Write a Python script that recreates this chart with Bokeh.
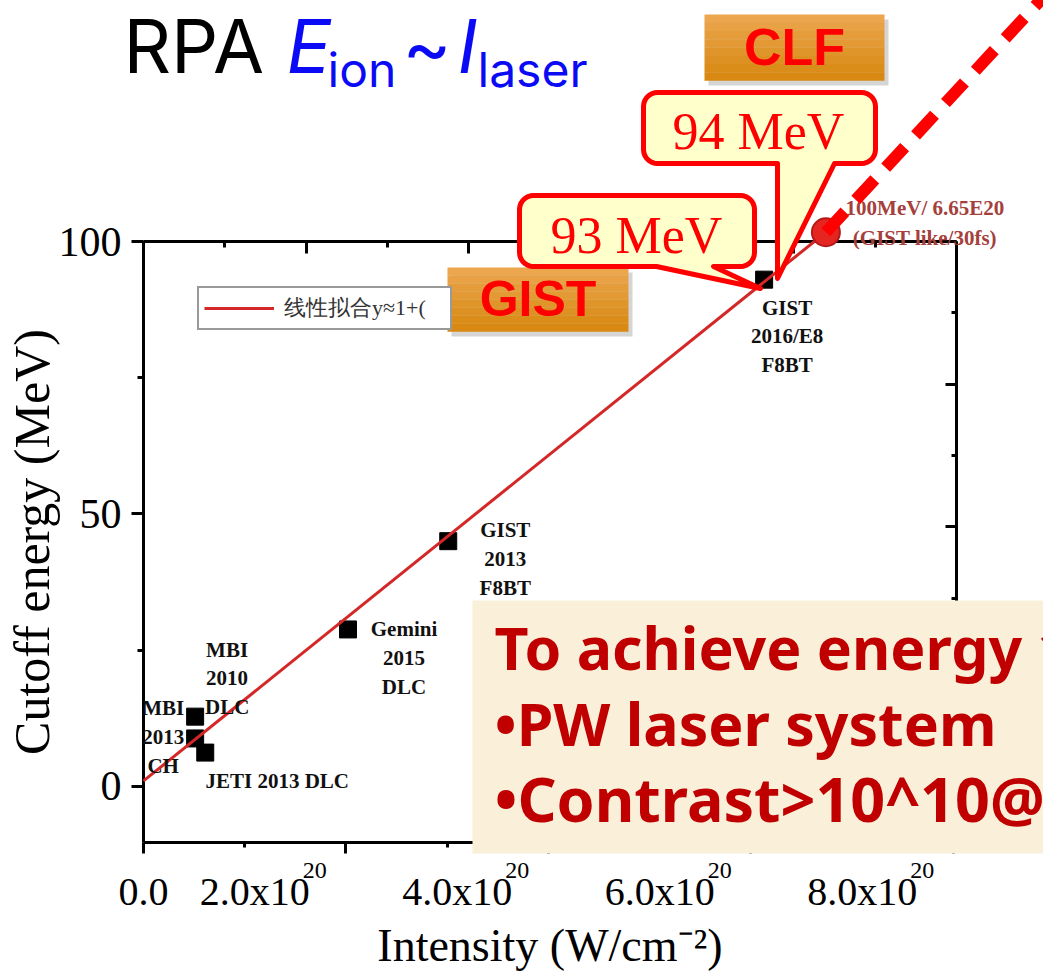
import numpy as np
from bokeh.plotting import figure
from bokeh.models import Range1d, LinearAxis, FixedTicker, Legend, LegendItem
from bokeh.core.properties import value
from bokeh.embed import file_html
from bokeh.resources import INLINE

# ---------------- data ----------------
point_names = ["MBI 2010 DLC", "MBI 2013 CH", "JETI 2013 DLC",
               "Gemini 2015 DLC", "GIST 2013 F8BT", "GIST 2016/E8 F8BT"]
point_labels = ["MBI\n2010\nDLC", "MBI\n2013\nCH", "JETI 2013 DLC",
                "Gemini\n2015\nDLC", "GIST\n2013\nF8BT", "GIST\n2016/E8\nF8BT"]
intensity_e20 = [0.51, 0.51, 0.61, 2.02, 3.01, 6.13]      # x 1e20 W/cm^2
cutoff_mev = [12.8, 8.8, 6.2, 28.8, 45.0, 93.0]

target_intensity = [6.74]
target_energy = [101.7]
target_label = "100MeV/ 6.65E20\n(GIST like/30fs)"

fit_x = [0.0, 6.74]
fit_y = [1.0, 101.7]
fit_label = "线性拟合y≈1+("

proj_x = [6.74, 9.06]
proj_y = [101.7, 148.3]

callout_texts = ["93 MeV", "94 MeV"]
facility_texts = ["GIST", "CLF"]
note_lines = ["To achieve energy 100 MeV", "•PW laser system", "•Contrast>10^10@ps"]

x_ticks = [0, 2, 4, 6, 8]
x_minor = [1, 3, 5, 7]
x_tick_labels = ["0.0", "2.0x10", "4.0x10", "6.0x10", "8.0x10"]
x_tick_exponents = ["", "20", "20", "20", "20"]
y_ticks = [0, 50, 100]
y_minor = [25, 75]
top_ticks = [0, 2, 4, 6, 8, 10]
top_minor = [1, 3, 5, 7, 9]
right_ticks = [0, -2, -4, -6, -8]
right_minor = [-1, -3, -5, -7]

# ---------------- layout helpers (page pixel -> data) ----------------
W, H = 1043, 975
X0, X1 = 0.0, 8.03
Y0, Y1 = -10.3, 100.0
FL, FR, FT, FB = 143, 956, 241, 842          # frame edges in page pixels
PXX = (FR - FL) / (X1 - X0)
PXY = (FB - FT) / (Y1 - Y0)


def dx(px):
    return X0 + (px - FL) / PXX


def dy(py):
    return Y1 - (py - FT) / PXY


# font ascents (em) used to place "top"-anchored text by its baseline
ASC = {"Liberation Serif": 0.891, "Liberation Sans": 0.905,
       "Noto Sans": 1.069, "Inter": 0.969}


def top_from_baseline(baseline, font, size):
    return baseline - ASC[font] * size


p = figure(width=W, height=H, x_range=Range1d(X0, X1), y_range=Range1d(Y0, Y1),
           x_axis_type=None, y_axis_type=None, output_backend="svg",
           toolbar_location=None, min_border_left=FL, min_border_right=W - FR,
           min_border_top=FT, min_border_bottom=H - FB, outline_line_color=None,
           background_fill_color="white", border_fill_color="white")
p.extra_x_ranges = {"top": Range1d(0, 10)}
p.extra_y_ranges = {"right": Range1d(-(FB - FT) / 71.3, 0)}

axis_common = dict(axis_line_width=3, major_tick_line_width=3, minor_tick_line_width=3,
                   axis_line_color="black", major_tick_line_color="black",
                   minor_tick_line_color="black")
no_labels = dict(major_label_text_color=None, major_label_text_font_size="1px",
                 major_label_standoff=0)

# bottom axis: ticks only
xb = LinearAxis(ticker=FixedTicker(ticks=x_ticks, minor_ticks=x_minor),
                major_tick_out=11, major_tick_in=0, minor_tick_out=5, minor_tick_in=0,
                **no_labels, **axis_common)
p.add_layout(xb, "below")

# bottom labels (shifted left as in the picture)
label_pos = [0.0 if t == 0 else t - 0.9 for t in x_ticks]
xl = LinearAxis(ticker=FixedTicker(ticks=label_pos, minor_ticks=[]),
                major_label_overrides=dict(zip(label_pos, x_tick_labels)),
                axis_line_color=None, major_tick_line_color=None, minor_tick_line_color=None,
                major_tick_out=0, major_tick_in=0, minor_tick_out=0, minor_tick_in=0,
                major_label_standoff=15, major_label_text_font="Liberation Serif",
                major_label_text_font_size="40px", major_label_text_color="black",
                axis_label="Intensity (W/cm⁻²)", axis_label_text_font="Liberation Serif",
                axis_label_text_font_size="46px", axis_label_text_font_style="normal",
                axis_label_text_color="black", axis_label_standoff=3)
p.add_layout(xl, "below")

# left axis
yl = LinearAxis(ticker=FixedTicker(ticks=y_ticks, minor_ticks=y_minor),
                major_tick_out=12, major_tick_in=0, minor_tick_out=6, minor_tick_in=0,
                major_label_standoff=10, major_label_text_font="Liberation Serif",
                major_label_text_font_size="42px", major_label_text_color="black",
                axis_label="Cutoff energy (MeV)", axis_label_text_font="Liberation Serif",
                axis_label_text_font_size="50px", axis_label_text_font_style="normal",
                axis_label_text_color="black", axis_label_standoff=-4, **axis_common)
p.add_layout(yl, "left")

# top axis (inward ticks, no labels)
xt = LinearAxis(x_range_name="top", ticker=FixedTicker(ticks=top_ticks, minor_ticks=top_minor),
                major_tick_out=0, major_tick_in=12, minor_tick_out=0, minor_tick_in=6,
                **no_labels, **axis_common)
p.add_layout(xt, "above")

# right axis (inward ticks, no labels)
yr = LinearAxis(y_range_name="right",
                ticker=FixedTicker(ticks=right_ticks, minor_ticks=right_minor),
                major_tick_out=0, major_tick_in=11, minor_tick_out=0, minor_tick_in=5,
                **no_labels, **axis_common)
p.add_layout(yr, "right")

# ---------------- data marks ----------------
p.scatter(intensity_e20, cutoff_mev, marker="square", size=17, color="black")
fit_r = p.line(fit_x, fit_y, line_color="#D42828", line_width=3, level="overlay")

p.text(x=intensity_e20, y=cutoff_mev, text=point_labels,
       x_offset=[32, -32, 72, 56, 57, 23], y_offset=[-79, -42, 16, -12, -23, 16],
       text_align="center", text_baseline="top", text_line_height=1.2,
       text_font=value("Liberation Serif"), text_font_style="bold", text_font_size="21px",
       text_color="#111111", level="overlay")

p.text(x=target_intensity, y=target_energy, text=[target_label], x_offset=99, y_offset=-36,
       text_align="center", text_baseline="top", text_line_height=1.25,
       text_font=value("Liberation Serif"), text_font_style="bold", text_font_size="21px",
       text_color="#A5403C", level="overlay")

p.scatter(target_intensity, target_energy, marker="circle", size=28,
          fill_color="#E52520", line_color="#B51A1A", line_width=2, level="overlay")
p.line(proj_x, proj_y, line_color="#FF0000", line_width=12, line_dash="28 16",
       level="overlay")

# superscript exponents of the x tick labels
sup_x = [pos for pos, e in zip(label_pos, x_tick_exponents) if e]
sup_t = [e for e in x_tick_exponents if e]
p.text(x=sup_x, y=[dy(862)] * len(sup_x), text=sup_t, x_offset=48,
       text_align="left", text_baseline="top", text_font=value("Liberation Serif"),
       text_font_size="24px", text_color="black", level="overlay")

# legend (its right part is hidden under the GIST box)
legend = Legend(items=[LegendItem(label=fit_label, renderers=[fit_r])],
                location=(197 - FL, FB - 330), border_line_color="#333333",
                border_line_width=2, padding=5, spacing=0, margin=0, glyph_width=70,
                glyph_height=20, label_height=20, label_width=161, label_standoff=10,
                label_text_font="Liberation Serif", label_text_font_size="22px",
                label_text_color="#333333", background_fill_color="white",
                background_fill_alpha=1, level="glyph")
p.add_layout(legend)


# ---------------- orange facility boxes ----------------
def orange_box(l, t, r, b, txt, baseline, size):
    p.quad(left=[dx(l + 4)], right=[dx(r + 4)], top=[dy(t + 5)], bottom=[dy(b + 5)],
           fill_color="#888888", fill_alpha=0.35, line_color=None, level="overlay")
    n = 8
    c0 = np.array([0xEB, 0xA6, 0x4E])
    c1 = np.array([0xD9, 0x89, 0x12])
    for i in range(n):
        c = c0 + (c1 - c0) * i / (n - 1)
        col = "#%02x%02x%02x" % tuple(int(v) for v in c)
        tt = t + (b - t) * i / n
        bb = t + (b - t) * (i + 1) / n
        p.quad(left=[dx(l)], right=[dx(r)], top=[dy(tt)], bottom=[dy(bb) - 0.05],
               fill_color=col, line_color=None, level="overlay")
    p.text(x=[dx((l + r) / 2)], y=[dy(top_from_baseline(baseline, "Liberation Sans", size))],
           text=[txt], text_align="center", text_baseline="top",
           text_font=value("Liberation Sans"), text_font_style="bold",
           text_font_size=f"{size}px", text_color="#FF0000", level="overlay")


orange_box(447, 267, 628, 331, facility_texts[0], 316, 50)
orange_box(704, 14, 884, 80, facility_texts[1], 65, 52)


# ---------------- callouts ----------------
def callout(x0, y0, x1, y1, r, tail, txt, tx, baseline):
    pts = []

    def arc(cx, cy, a0, a1):
        for a in np.linspace(a0, a1, 8):
            pts.append((cx + r * np.cos(a), cy + r * np.sin(a)))

    arc(x0 + r, y0 + r, np.pi, 1.5 * np.pi)
    arc(x1 - r, y0 + r, 1.5 * np.pi, 2 * np.pi)
    arc(x1 - r, y1 - r, 0, 0.5 * np.pi)
    br, tipx, tipy, bl = tail
    pts += [(br, y1), (tipx, tipy), (bl, y1)]
    arc(x0 + r, y1 - r, 0.5 * np.pi, np.pi)
    xs = [dx(q[0]) for q in pts]
    ys = [dy(q[1]) for q in pts]
    p.patch(xs, ys, fill_color="#FFFFCC", line_color="#FF0000", line_width=5,
            line_join="round", level="overlay")
    p.text(x=[dx(tx)], y=[dy(top_from_baseline(baseline, "Liberation Serif", 52))],
           text=[txt], text_align="left", text_baseline="top",
           text_font=value("Liberation Serif"), text_font_size="52px",
           text_color="#FF0000", level="overlay")


callout(519, 195, 754, 266, 14, (713, 760, 288, 656), callout_texts[0], 550, 253)
callout(643, 92, 875, 163, 14, (834, 777, 278, 777), callout_texts[1], 672, 149)

# ---------------- note box ----------------
p.quad(left=[dx(472)], right=[dx(1080)], top=[dy(600)], bottom=[dy(853)],
       fill_color="#FAF0DA", line_color=None, level="overlay")
note_sizes = [59, 59, 61]
note_baselines = [670, 746, 822]
p.text(x=[dx(494)] * 3,
       y=[dy(top_from_baseline(b, "Noto Sans", s)) for b, s in zip(note_baselines, note_sizes)],
       text=note_lines, text_align="left", text_baseline="top",
       text_font=value("Noto Sans"), text_font_style="bold",
       text_font_size=[f"{s}px" for s in note_sizes],
       text_color="#C00000", level="overlay")

# ---------------- title ----------------
TF = "Inter"
t_big = dy(top_from_baseline(72, TF, 74))
t_sub = dy(top_from_baseline(86, TF, 48))
p.text(x=[dx(123)], y=[t_big], text=["RPA"], text_align="left", text_baseline="top",
       text_font=value(TF), text_font_size="74px", text_color="black", level="overlay")
p.text(x=[dx(286), dx(457)], y=[t_big, t_big], text=["E", "I"], text_align="left",
       text_baseline="top", text_font=value(TF), text_font_style="italic",
       text_font_size="74px", text_color="#0A0AF5", level="overlay")
p.text(x=[dx(402)], y=[t_big], text=["~"], text_align="left", text_baseline="top",
       text_font=value(TF), text_font_size="74px", text_color="#0A0AF5", level="overlay")
p.text(x=[dx(327), dx(477)], y=[t_sub, t_sub], text=["ion", "laser"], text_align="left",
       text_baseline="top", text_font=value(TF), text_font_size="48px",
       text_color="#0A0AF5", level="overlay")

open("out.html", "w").write(file_html(p, INLINE))
